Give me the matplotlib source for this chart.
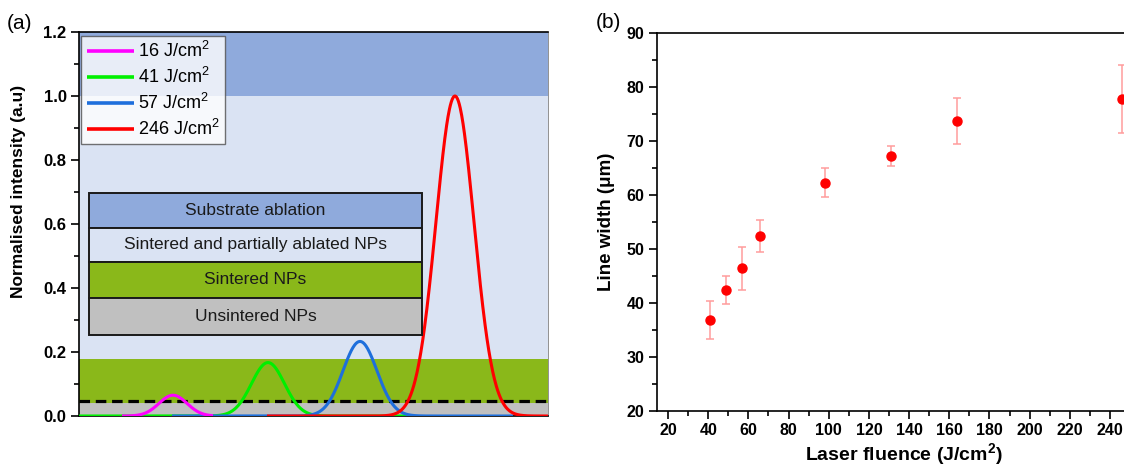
import numpy as np
import matplotlib
matplotlib.use("Agg")
import matplotlib.pyplot as plt
from matplotlib.patches import Rectangle
from matplotlib.ticker import MultipleLocator

plt.rcParams['font.family'] = ['Liberation Sans', 'DejaVu Sans']
plt.rcParams['mathtext.fontset'] = 'custom'
plt.rcParams['mathtext.rm'] = 'Liberation Sans'
plt.rcParams['mathtext.bf'] = 'Liberation Sans:bold'
plt.rcParams['mathtext.it'] = 'Liberation Sans:italic'

# ---------------- Panel (a) data ----------------
fluence_labels = ["16 J/cm$^{2}$", "41 J/cm$^{2}$", "57 J/cm$^{2}$", "246 J/cm$^{2}$"]
curve_colors = ["#FF00FF", "#00F000", "#1E6FDC", "#FF0000"]
peak_heights = [0.065, 0.167, 0.233, 1.0]          # normalised peak intensity
peak_centers = [94, 189, 281, 376]                 # position (arb. units)
peak_widths = [14, 16.5, 17, 19]                   # gaussian sigma (arb. units)
curve_start = [43, 0, 93, 188]
curve_end = [134, 331, 434, 469]
curve_z = [6, 3, 4, 5]

band_edges = [0.0, 0.04, 0.178, 1.0, 1.2]
band_colors = ["#C0C0C0", "#8AB81A", "#DAE3F3", "#8FAADC"]
threshold = 0.048

box_labels = ["Substrate ablation", "Sintered and partially ablated NPs",
              "Sintered NPs", "Unsintered NPs"]
box_colors = ["#8FAADC", "#DAE3F3", "#8AB81A", "#C0C0C0"]
box_edges = [0.698, 0.588, 0.481, 0.370, 0.253]
box_x = [10, 343]

# ---------------- Panel (b) data ----------------
laser_fluence = [41, 49, 57, 66, 98, 131, 164, 246]
line_width = [36.8, 42.4, 46.4, 52.4, 62.3, 67.2, 73.7, 77.8]
line_width_err = [3.5, 2.6, 4.0, 3.0, 2.7, 1.8, 4.3, 6.3]

fig = plt.figure(figsize=(11.24, 4.68), dpi=100)

# ================= Panel (a) =================
ax1 = fig.add_axes([0.0703, 0.1111, 0.4172, 0.8205])
xmin_a, xmax_a = 0, 469
for lo, hi, c in zip(band_edges[:-1], band_edges[1:], band_colors):
    ax1.axhspan(lo, hi, color=c, lw=0, zorder=0)

ax1.axhline(threshold, color='black', lw=2.3, dashes=(3.3, 1.8), zorder=2)

for lab, col, h, mu, sg, s, e, z in zip(fluence_labels, curve_colors, peak_heights,
                                        peak_centers, peak_widths, curve_start,
                                        curve_end, curve_z):
    x = np.linspace(s, e, 600)
    y = h * np.exp(-0.5 * ((x - mu) / sg) ** 2)
    ax1.plot(x, y, color=col, lw=2.2, label=lab, zorder=z, solid_capstyle='butt')

for lab, col, top, bot in zip(box_labels, box_colors, box_edges[:-1], box_edges[1:]):
    ax1.add_patch(Rectangle((box_x[0], bot), box_x[1] - box_x[0], top - bot,
                            facecolor=col, edgecolor='#1a1a1a', lw=1.4, zorder=7))
    ax1.text((box_x[0] + box_x[1]) / 2, (top + bot) / 2, lab, ha='center',
             va='center', fontsize=12.5, color='#1a1a1a', zorder=8)

ax1.set_xlim(xmin_a, xmax_a)
ax1.set_ylim(0, 1.2)
ax1.set_xticks([])
ax1.yaxis.set_major_locator(MultipleLocator(0.2))
ax1.yaxis.set_minor_locator(MultipleLocator(0.1))
ax1.yaxis.set_major_formatter(matplotlib.ticker.FormatStrFormatter('%.1f'))
ax1.tick_params(axis='y', which='major', direction='out', length=6, width=1.2,
                labelsize=12, pad=3)
ax1.tick_params(axis='y', which='minor', direction='out', length=3.5, width=1.2)
for lbl in ax1.get_yticklabels():
    lbl.set_fontweight('bold')
for sp in ['left', 'bottom', 'top']:
    ax1.spines[sp].set_linewidth(1.2)
ax1.spines['right'].set_linewidth(0.6)
ax1.spines['right'].set_color('#808080')
ax1.set_ylabel('Normalised intensity (a.u)', fontsize=12.5, fontweight='bold')
ax1.yaxis.set_label_coords(-0.113, 0.586)

leg = ax1.legend(loc='upper left', bbox_to_anchor=(0.005, 0.99), fontsize=13,
                 frameon=True, fancybox=False, handlelength=2.6,
                 handletextpad=0.25, labelspacing=0.32, borderpad=0.3,
                 borderaxespad=0.0)
leg.get_frame().set_edgecolor('#505050')
leg.get_frame().set_linewidth(1.0)
leg.set_zorder(10)
for lh in leg.get_lines():
    lh.set_linewidth(2.6)

# ================= Panel (b) =================
ax2 = fig.add_axes([0.5845, 0.1218, 0.4388, 0.8077])
ax2.errorbar(laser_fluence, line_width, yerr=line_width_err, fmt='o',
             color='#FF0000', ms=6.5, ecolor='#FF9C9C', elinewidth=1.1,
             capsize=3, capthick=1.1, zorder=3)
ax2.set_xlim(14.5, 260)
ax2.set_ylim(20, 90)
ax2.xaxis.set_major_locator(MultipleLocator(20))
ax2.xaxis.set_minor_locator(MultipleLocator(10))
ax2.yaxis.set_major_locator(MultipleLocator(10))
ax2.yaxis.set_minor_locator(MultipleLocator(5))
ax2.tick_params(which='major', direction='out', length=6, width=1.2, labelsize=11.5,
                pad=3)
ax2.tick_params(which='minor', direction='out', length=3.5, width=1.2)
for lbl in ax2.get_xticklabels() + ax2.get_yticklabels():
    lbl.set_fontweight('bold')
for sp in ax2.spines.values():
    sp.set_linewidth(1.2)
ax2.set_xlabel(r'Laser fluence (J/cm$^{\mathbf{2}}$)', fontsize=14, fontweight='bold',
               labelpad=2)
ax2.set_ylabel('Line width (\u03bcm)', fontsize=13.5, fontweight='bold', labelpad=8)

fig.text(0.006, 0.949, '(a)', fontsize=15, va='center', ha='left')
fig.text(0.530, 0.951, '(b)', fontsize=15, va='center', ha='left')

fig.savefig('out.png', dpi=100)
